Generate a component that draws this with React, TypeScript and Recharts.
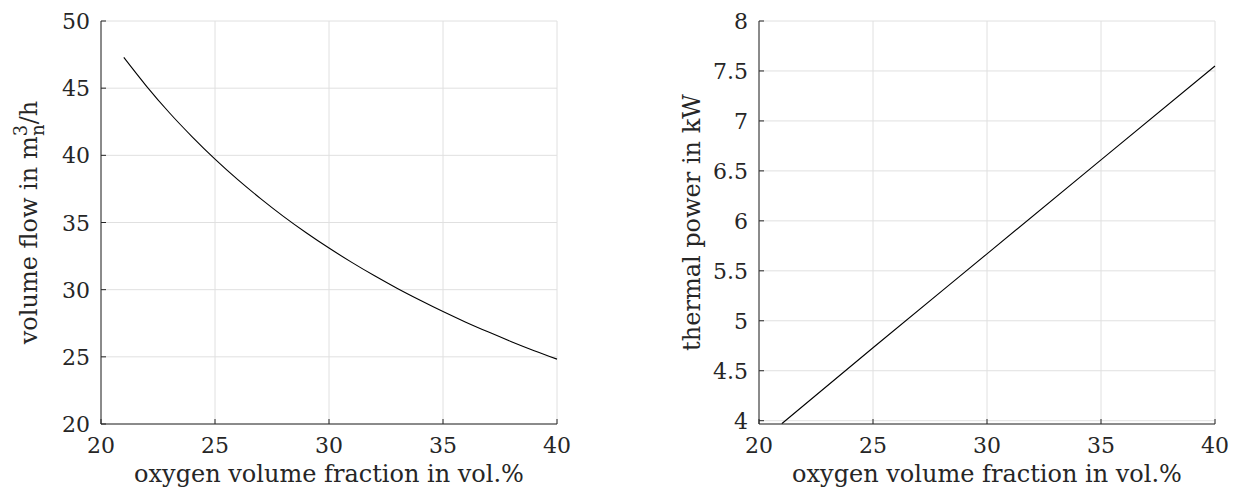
import React from 'react'
import { LineChart, Line, XAxis, YAxis, CartesianGrid } from 'recharts'

// oxygen volume fraction in vol.%
const oxygenFraction = [21, 22, 23, 24, 25, 26, 27, 28, 29, 30, 31, 32, 33, 34, 35, 36, 37, 38, 39, 40]
// volume flow in m_n^3/h
const volumeFlow = [47.29, 45.14, 43.17, 41.38, 39.72, 38.19, 36.78, 35.46, 34.24, 33.1, 32.03, 31.03, 30.09, 29.21, 28.37, 27.58, 26.84, 26.13, 25.46, 24.83]

// thermal power in kW (straight line, read at a few fractions)
const powerFraction = [21, 25, 30, 35, 40]
const thermalPower = [3.97, 4.73, 5.67, 6.61, 7.55]

const xTicks = [20, 25, 30, 35, 40]
const flowTicks = [20, 25, 30, 35, 40, 45, 50]
const powerTicks = [4, 4.5, 5, 5.5, 6, 6.5, 7, 7.5, 8]

const flowData = oxygenFraction.map((x, i) => ({ x, y: volumeFlow[i] }))
const powerData = powerFraction.map((x, i) => ({ x, y: thermalPower[i] }))

const FONT = '"DejaVu Serif", serif'
const INK = '#262626'
const GRID = '#e0e0e0'
const TICK = 5

const BottomTick = ({ x, y, payload }: any) => (
  <g>
    <line x1={x} y1={y} x2={x} y2={y - TICK} stroke={INK} />
    <text x={x} y={y + 29} textAnchor="middle" fill={INK} fontFamily={FONT} fontSize={22}>
      {payload.value}
    </text>
  </g>
)

const LeftTick = ({ x, y, payload }: any) => (
  <g>
    <line x1={x} y1={y} x2={x + TICK} y2={y} stroke={INK} />
    <text x={x - 11} y={y + 8} textAnchor="end" fill={INK} fontFamily={FONT} fontSize={22}>
      {payload.value}
    </text>
  </g>
)

const TopTick = ({ x, y }: any) => <line x1={x} y1={y} x2={x} y2={y + TICK} stroke={INK} />
const RightTick = ({ x, y }: any) => <line x1={x} y1={y} x2={x - TICK} y2={y} stroke={INK} />

const XTitle = ({ viewBox }: any) => (
  <text
    x={viewBox.x + viewBox.width / 2}
    y={viewBox.y + 58}
    textAnchor="middle"
    fill={INK}
    fontFamily={FONT}
    fontSize={24}
  >
    oxygen volume fraction in vol.%
  </text>
)

const YTitle = ({ viewBox, offset, children }: any) => {
  const cx = viewBox.x + offset
  const cy = viewBox.y + viewBox.height / 2
  return (
    <text
      x={cx}
      y={cy}
      transform={`rotate(-90 ${cx} ${cy})`}
      textAnchor="middle"
      fill={INK}
      fontFamily={FONT}
      fontSize={24}
    >
      {children}
    </text>
  )
}

const FlowTitle = (props: any) => (
  <YTitle {...props} offset={37}>
    <tspan>volume flow in m</tspan>
    <tspan dy={-10} fontSize={18}>3</tspan>
    <tspan dx={-11} dy={17} fontSize={18}>n</tspan>
    <tspan dy={-7}>/h</tspan>
  </YTitle>
)

const PowerTitle = (props: any) => (
  <YTitle {...props} offset={80}>
    thermal power in kW
  </YTitle>
)

type PanelProps = {
  data: { x: number; y: number }[]
  yDomain: [number, number]
  yTicks: number[]
  yAxisWidth: number
  width: number
  right: number
  title: React.ReactElement
}

function Panel({ data, yDomain, yTicks, yAxisWidth, width, right, title }: PanelProps) {
  return (
    <LineChart width={width} height={489} data={data} margin={{ top: 21, right, bottom: 0, left: 0 }}>
      <CartesianGrid stroke={GRID} />
      <XAxis
        type="number"
        dataKey="x"
        domain={[20, 40]}
        ticks={xTicks}
        height={65}
        stroke={INK}
        tickLine={false}
        tickSize={0}
        tickMargin={0}
        tick={<BottomTick />}
        label={<XTitle />}
      />
      <XAxis
        xAxisId="top"
        orientation="top"
        type="number"
        domain={[20, 40]}
        ticks={xTicks}
        height={0}
        stroke={INK}
        tickLine={false}
        tickSize={0}
        tickMargin={0}
        tick={<TopTick />}
      />
      <YAxis
        type="number"
        domain={yDomain}
        ticks={yTicks}
        allowDataOverflow
        width={yAxisWidth}
        stroke={INK}
        tickLine={false}
        tickSize={0}
        tickMargin={0}
        tick={<LeftTick />}
        label={title}
      />
      <YAxis
        yAxisId="right"
        orientation="right"
        type="number"
        domain={yDomain}
        ticks={yTicks}
        allowDataOverflow
        width={0}
        stroke={INK}
        tickLine={false}
        tickSize={0}
        tickMargin={0}
        tick={<RightTick />}
      />
      <Line
        type="monotone"
        dataKey="y"
        stroke="#000000"
        strokeWidth={1.1}
        dot={false}
        isAnimationActive={false}
      />
    </LineChart>
  )
}

export default function App() {
  return (
    <div style={{ position: 'absolute', left: 0, top: 0, width: 1235, height: 489, background: '#fff' }}>
      <div style={{ position: 'absolute', left: 0, top: 0 }}>
        <Panel
          data={flowData}
          yDomain={[20, 50]}
          yTicks={flowTicks}
          yAxisWidth={101}
          width={600}
          right={43}
          title={<FlowTitle />}
        />
      </div>
      <div style={{ position: 'absolute', left: 620, top: 0 }}>
        <Panel
          data={powerData}
          yDomain={[3.967, 8]}
          yTicks={powerTicks}
          yAxisWidth={139}
          width={615}
          right={20}
          title={<PowerTitle />}
        />
      </div>
    </div>
  )
}
